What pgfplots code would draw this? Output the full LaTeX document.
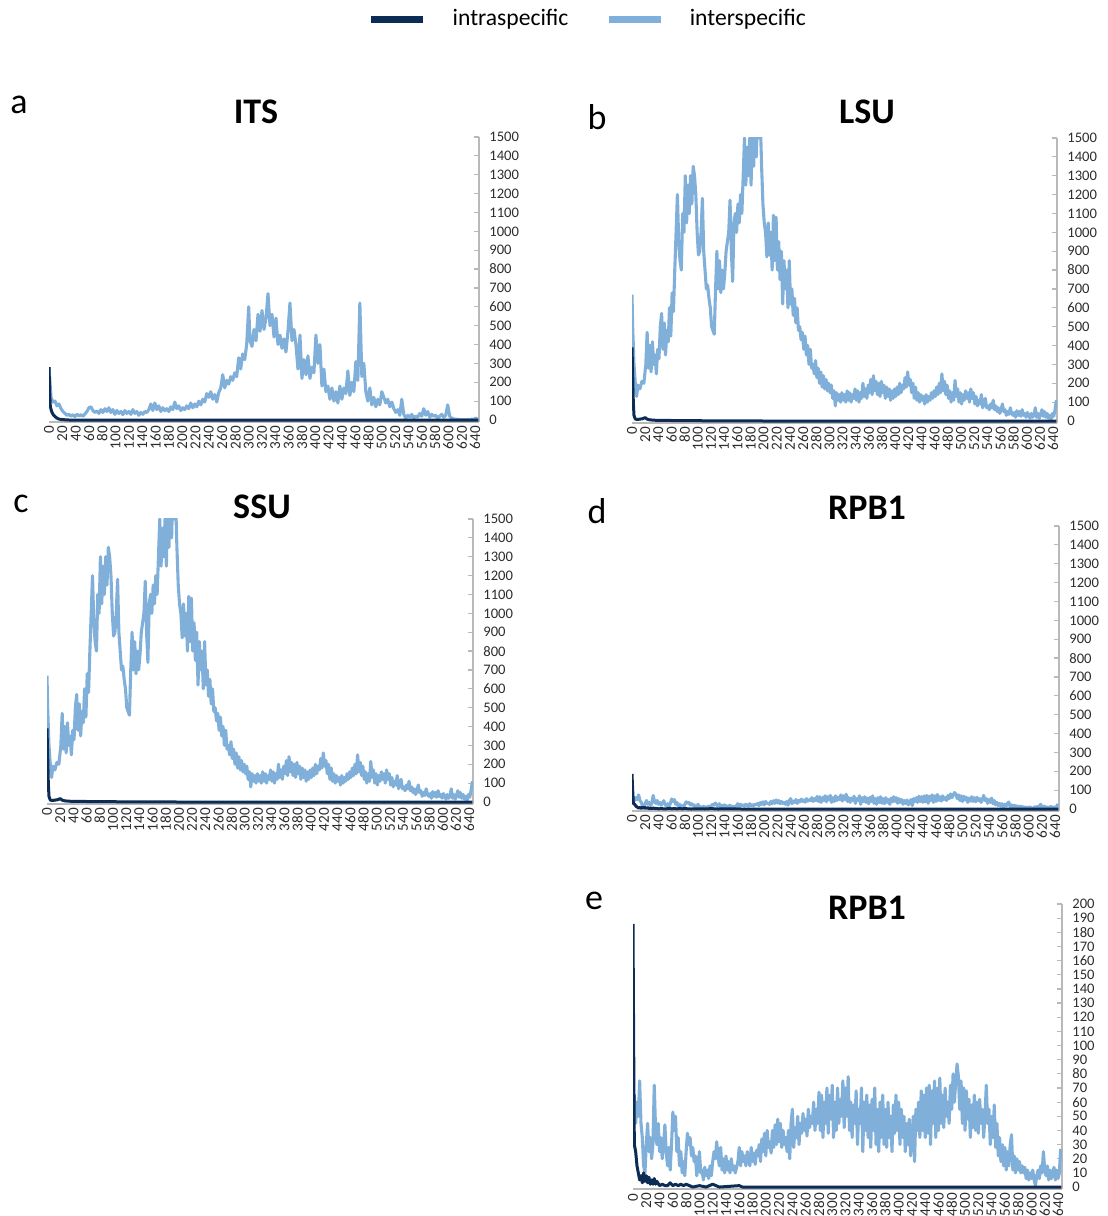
\documentclass[border=0pt]{standalone}
\usepackage{fontspec}
\setmainfont{Carlito}
\usepackage{pgfplots}
\usepackage{pgfplotstable}
\pgfplotsset{compat=1.18}
\definecolor{inter}{RGB}{128,176,218}
\definecolor{intra}{RGB}{12,44,86}
\definecolor{axgray}{RGB}{185,185,185}
\definecolor{lblgray}{RGB}{45,45,45}

\pgfplotstableread[row sep=\\]{x y\\
0 280\\3 120\\6 95\\9 100\\12 75\\15 85\\18 60\\21 45\\24 35\\27 25\\30 30\\33 20\\36 28\\39 18\\42 30\\45 22\\48 28\\51 20\\54 32\\57 45\\60 65\\63 70\\66 50\\69 40\\72 48\\75 35\\78 55\\81 40\\84 60\\87 45\\90 65\\93 40\\96 55\\99 30\\102 50\\105 35\\108 45\\111 28\\114 50\\117 35\\120 45\\123 30\\126 55\\129 35\\132 45\\135 25\\138 40\\141 30\\144 45\\147 40\\150 55\\153 85\\156 50\\159 90\\162 55\\165 75\\168 45\\171 65\\174 50\\177 60\\180 45\\183 70\\186 55\\189 95\\192 60\\195 75\\198 50\\201 65\\204 55\\207 75\\210 60\\213 90\\216 65\\219 85\\222 70\\225 100\\228 80\\231 110\\234 95\\237 140\\240 120\\243 150\\246 110\\249 135\\252 95\\255 145\\258 170\\261 240\\264 170\\267 210\\270 190\\273 230\\276 210\\279 250\\282 230\\285 330\\288 270\\291 350\\294 320\\297 400\\300 600\\302 420\\305 390\\308 480\\311 420\\314 560\\317 470\\320 580\\323 480\\326 540\\329 670\\332 500\\335 560\\338 440\\341 540\\344 400\\347 450\\350 380\\353 430\\356 360\\359 470\\362 620\\365 420\\368 480\\371 400\\374 270\\377 450\\380 220\\383 320\\386 240\\389 340\\392 220\\395 280\\398 250\\401 450\\404 300\\407 400\\410 180\\413 270\\416 150\\419 180\\422 110\\425 170\\428 100\\431 150\\434 90\\437 180\\440 110\\443 170\\446 140\\449 260\\452 130\\455 200\\458 150\\461 310\\464 210\\467 620\\470 230\\473 300\\476 150\\479 100\\482 170\\485 80\\488 120\\491 70\\494 110\\497 80\\500 150\\503 120\\506 90\\509 110\\512 70\\515 95\\518 60\\521 40\\524 55\\527 25\\530 110\\533 30\\536 10\\539 25\\542 15\\545 30\\548 10\\551 20\\554 15\\557 35\\560 20\\563 60\\566 25\\569 45\\572 15\\575 30\\578 20\\581 25\\584 10\\587 20\\590 30\\593 15\\596 25\\599 80\\602 20\\605 10\\608 5\\611 5\\614 3\\617 2\\620 0\\623 2\\626 0\\629 3\\632 0\\635 5\\638 2\\641 10\\644 5\\
}\itsinter

\pgfplotstableread[row sep=\\]{x y\\
0 280\\1 150\\2 70\\4 45\\6 30\\9 18\\12 10\\15 5\\20 2\\30 0\\645 0\\
}\itsintra

\pgfplotstableread[row sep=\\]{x y\\
0 670\\1 500\\3 300\\5 200\\7 130\\9 190\\12 170\\15 210\\18 200\\21 300\\23 470\\25 280\\27 400\\29 260\\31 420\\33 300\\35 350\\37 250\\39 380\\41 330\\43 500\\45 570\\47 380\\49 520\\51 350\\53 480\\55 420\\57 600\\59 450\\61 680\\63 580\\65 800\\67 1000\\69 1200\\71 950\\73 850\\75 800\\77 1100\\79 1000\\81 1300\\83 1050\\85 1250\\87 1100\\89 1300\\91 1150\\93 1350\\95 1300\\97 1200\\99 1000\\101 880\\103 900\\105 1000\\107 1180\\109 900\\111 800\\113 700\\115 720\\117 650\\119 600\\121 500\\123 480\\125 460\\127 700\\129 900\\131 700\\133 850\\135 680\\137 800\\139 700\\141 780\\143 900\\145 950\\147 1000\\149 1170\\151 900\\153 740\\155 1050\\157 1100\\159 1000\\161 1150\\163 1050\\165 1200\\167 1100\\169 1300\\171 1500\\173 1250\\175 1450\\177 1300\\179 1500\\181 1250\\183 1600\\185 1350\\187 1650\\189 1400\\191 1700\\193 1500\\195 1600\\197 1350\\199 1150\\201 1050\\203 1000\\205 870\\207 1050\\209 880\\211 1000\\213 800\\215 1090\\217 850\\219 1080\\221 800\\223 950\\225 750\\227 900\\229 620\\231 850\\233 700\\235 800\\237 600\\239 850\\241 620\\243 700\\245 560\\247 650\\249 520\\251 600\\253 480\\255 500\\257 430\\259 470\\261 380\\263 450\\265 350\\267 400\\269 300\\271 380\\273 280\\275 300\\277 250\\279 320\\281 230\\283 280\\285 200\\287 260\\289 180\\291 240\\293 170\\295 220\\297 160\\299 200\\301 150\\303 190\\305 120\\307 160\\309 80\\311 150\\313 110\\315 140\\317 100\\319 150\\321 110\\323 140\\325 100\\327 160\\329 110\\331 150\\333 100\\335 140\\337 120\\339 170\\341 110\\343 160\\345 100\\347 150\\349 120\\351 200\\353 130\\355 170\\357 120\\359 190\\361 150\\363 220\\365 140\\367 240\\369 160\\371 210\\373 140\\375 200\\377 130\\379 210\\381 150\\383 190\\385 120\\387 180\\389 130\\391 170\\393 110\\395 160\\397 120\\399 170\\401 130\\403 180\\405 140\\407 200\\409 150\\411 190\\413 170\\415 230\\417 180\\419 260\\421 190\\423 220\\425 150\\427 200\\429 120\\431 180\\433 110\\435 150\\437 100\\439 140\\441 110\\443 130\\445 90\\447 140\\449 100\\451 130\\453 110\\455 150\\457 120\\459 160\\461 130\\463 180\\465 140\\467 200\\469 150\\471 250\\473 160\\475 210\\477 140\\479 190\\481 120\\483 160\\485 100\\487 150\\489 110\\491 215\\493 130\\495 170\\497 100\\499 150\\501 90\\503 140\\505 110\\507 160\\509 120\\511 150\\513 100\\515 170\\517 120\\519 150\\521 90\\523 130\\525 80\\527 110\\529 90\\531 140\\533 70\\535 100\\537 120\\539 70\\541 80\\543 60\\545 90\\547 70\\549 110\\551 60\\553 80\\555 50\\557 70\\559 40\\561 60\\563 90\\565 50\\567 60\\569 30\\571 50\\573 35\\575 70\\577 40\\579 30\\581 45\\583 20\\585 55\\587 30\\589 50\\591 25\\593 60\\595 30\\597 40\\599 20\\601 45\\603 30\\605 15\\607 40\\609 20\\611 30\\613 70\\615 20\\617 40\\619 15\\621 35\\623 60\\625 25\\627 50\\629 20\\631 40\\633 15\\635 30\\637 10\\639 40\\641 25\\643 60\\645 110\\
}\lsuinter

\pgfplotstableread[row sep=\\]{x y\\
0 390\\1 250\\2 100\\3 30\\5 10\\8 8\\12 10\\16 12\\20 18\\23 10\\27 6\\35 4\\50 3\\80 2\\120 1\\200 0\\645 0\\
}\lsuintra

\pgfplotstableread[row sep=\\]{x y\\
0 38\\2 65\\4 45\\6 60\\8 50\\10 75\\12 45\\14 35\\16 15\\18 10\\20 30\\22 45\\24 25\\26 35\\28 20\\30 30\\32 72\\34 40\\36 30\\38 45\\40 25\\42 35\\44 20\\46 30\\48 44\\50 25\\52 15\\54 28\\56 12\\58 30\\60 53\\62 40\\64 50\\66 25\\68 35\\70 15\\72 25\\74 10\\76 18\\78 8\\80 25\\82 38\\84 30\\86 35\\88 22\\90 28\\92 18\\94 22\\96 8\\98 15\\100 25\\102 10\\104 12\\106 5\\108 14\\110 8\\112 12\\114 6\\116 15\\118 8\\120 18\\122 25\\124 20\\126 32\\128 22\\130 15\\132 28\\134 12\\136 20\\138 10\\140 22\\142 12\\144 18\\146 10\\148 20\\150 12\\152 15\\154 10\\156 14\\158 18\\160 28\\162 15\\164 25\\166 18\\168 22\\170 15\\172 25\\174 20\\176 15\\178 28\\180 18\\182 24\\184 16\\186 26\\188 22\\190 30\\192 18\\194 34\\196 25\\198 38\\200 22\\202 40\\204 28\\206 32\\208 24\\210 40\\212 28\\214 44\\216 30\\218 48\\220 32\\222 45\\224 28\\226 40\\228 30\\230 35\\232 25\\234 40\\236 20\\238 45\\240 55\\242 28\\244 42\\246 35\\248 50\\250 30\\252 45\\254 38\\256 52\\258 40\\260 48\\262 36\\264 55\\266 42\\268 50\\270 45\\272 60\\274 40\\276 55\\278 45\\280 67\\282 40\\284 65\\286 35\\288 60\\290 45\\292 70\\294 38\\296 65\\298 48\\300 72\\302 35\\304 60\\306 40\\308 70\\310 45\\312 62\\314 50\\316 75\\318 42\\320 70\\322 50\\324 78\\326 40\\328 60\\330 35\\332 58\\334 45\\336 68\\338 30\\340 55\\342 45\\344 70\\346 25\\348 60\\350 40\\352 65\\354 35\\356 58\\358 28\\360 62\\362 40\\364 70\\366 30\\368 55\\370 25\\372 60\\374 35\\376 65\\378 30\\380 55\\382 28\\384 60\\386 35\\388 50\\390 25\\392 58\\394 38\\396 65\\398 40\\400 60\\402 30\\404 55\\406 35\\408 50\\410 25\\412 45\\414 30\\416 48\\418 22\\420 35\\422 50\\424 18\\426 55\\428 40\\430 60\\432 35\\434 68\\436 40\\438 65\\440 35\\442 70\\444 38\\446 72\\448 30\\450 68\\452 45\\454 75\\456 35\\458 70\\460 40\\462 77\\464 45\\466 65\\468 42\\470 70\\472 50\\474 60\\476 45\\478 72\\480 55\\482 80\\484 60\\486 75\\488 87\\490 78\\492 55\\494 75\\496 45\\498 70\\500 40\\502 68\\504 48\\506 62\\508 35\\510 58\\512 42\\514 65\\516 40\\518 60\\520 38\\522 62\\524 45\\526 55\\528 35\\530 50\\532 72\\534 45\\536 55\\538 30\\540 50\\542 35\\544 58\\546 28\\548 45\\550 22\\552 35\\554 18\\556 30\\558 15\\560 28\\562 12\\564 25\\566 15\\568 30\\570 37\\572 12\\574 22\\576 10\\578 20\\580 12\\582 18\\584 10\\586 15\\588 10\\590 14\\592 6\\594 12\\596 5\\598 10\\600 6\\602 12\\604 5\\606 1\\608 8\\610 12\\612 6\\614 15\\616 10\\618 25\\620 12\\622 8\\624 15\\626 5\\628 12\\630 6\\632 10\\634 14\\636 5\\638 12\\640 6\\642 10\\644 27\\
}\rpbinter

\pgfplotstableread[row sep=\\]{x y\\
0 186\\1 100\\2 30\\4 25\\6 15\\8 10\\10 5\\12 8\\14 3\\16 10\\18 4\\20 8\\22 3\\24 7\\26 2\\28 5\\30 2\\32 6\\34 2\\36 4\\40 1\\44 2\\48 1\\52 1\\56 3\\60 1\\64 2\\68 1\\72 2\\76 1\\80 2\\85 1\\90 0\\100 1\\110 0\\120 2\\125 1\\130 0\\160 1\\165 0\\645 0\\
}\rpbintra

\pgfplotsset{
  panel/.style={
    anchor=south west, scale only axis,
    xmin=0, xmax=646,
    axis x line*=bottom, axis y line*=right,
    axis line style={draw=axgray, line width=0.7bp},
    xtick={0,20,...,640},
    xtick style={draw=none},
    ytick style={draw=axgray, line width=0.6bp},
    tick align=inside, major tick length=2.5bp,
    x tick label style={rotate=90, anchor=east, inner sep=2bp, font=\fontsize{7.6bp}{8bp}\selectfont, text=lblgray},
    y tick label style={anchor=west, inner sep=1bp, xshift=4bp, font=\fontsize{7.3bp}{8bp}\selectfont, text=lblgray},
    /pgf/number format/assume math mode=true,
    /pgf/number format/1000 sep={},
    clip=true,
  },
  big/.style={ymin=-10, ymax=1500, ytick={0,100,...,1500}, height=142.45bp},
  interline/.style={color=inter, line width=1.55bp, line join=round},
  intraline/.style={color=intra, line width=1.5bp, line join=round},
}

\begin{document}
\begin{tikzpicture}
\path[use as bounding box] (0,0) rectangle (554bp,608bp);

% a ITS
\begin{axis}[panel, big, at={(24.5bp,397.05bp)}, width=215bp,
  legend columns=2,
  legend image code/.code={\draw[#1, line width=3.2bp] (0bp,0bp) -- (26bp,0bp);},
  legend style={at={(1.256,1.413)}, anchor=center, draw=none, fill=none,
    font=\fontsize{11.8bp}{13bp}\selectfont,
    /tikz/every odd column/.append style={column sep=11bp},
    /tikz/every even column/.append style={column sep=16.5bp}},
  legend cell align=left]
\addplot[interline, forget plot] table {\itsinter};
\addplot[intraline] table {\itsintra};
\addlegendentry{intraspecific}
\addlegendimage{color=inter}
\addlegendentry{interspecific}
\end{axis}

% b LSU
\begin{axis}[panel, big, at={(316bp,396.55bp)}, width=212.5bp]
\addplot[interline] table {\lsuinter};
\addplot[intraline] table {\lsuintra};
\end{axis}

% c SSU
\begin{axis}[panel, big, at={(23.5bp,206.05bp)}, width=213bp]
\addplot[interline] table {\lsuinter};
\addplot[intraline] table {\lsuintra};
\end{axis}

% d RPB1
\begin{axis}[panel, big, at={(316bp,202.55bp)}, width=213.5bp]
\addplot[interline] table {\rpbinter};
\addplot[intraline] table {\rpbintra};
\end{axis}

% e RPB1 (zoom)
\begin{axis}[panel, ymin=-1.3, ymax=200, ytick={0,10,...,200}, height=142.45bp,
  at={(316.5bp,13.55bp)}, width=214.5bp]
\addplot[interline] table {\rpbinter};
\addplot[intraline] table {\rpbintra};
\end{axis}

\tikzset{ttl/.style={font=\fontsize{18bp}{20bp}\selectfont\bfseries, inner sep=0pt},
         ltr/.style={font=\fontsize{18bp}{20bp}\selectfont, inner sep=0pt}}
\node[ttl] at (128bp,552bp) {ITS};
\node[ttl] at (433.5bp,552bp) {LSU};
\node[ttl] at (131bp,354.5bp) {SSU};
\node[ttl] at (433.5bp,354bp) {RPB1};
\node[ttl] at (433.5bp,154bp) {RPB1};
\node[ltr] at (9.5bp,555.5bp) {a};
\node[ltr] at (298.5bp,549.5bp) {b};
\node[ltr] at (10.5bp,356bp) {c};
\node[ltr] at (298.5bp,352.5bp) {d};
\node[ltr] at (297bp,157.5bp) {e};
\end{tikzpicture}
\end{document}
